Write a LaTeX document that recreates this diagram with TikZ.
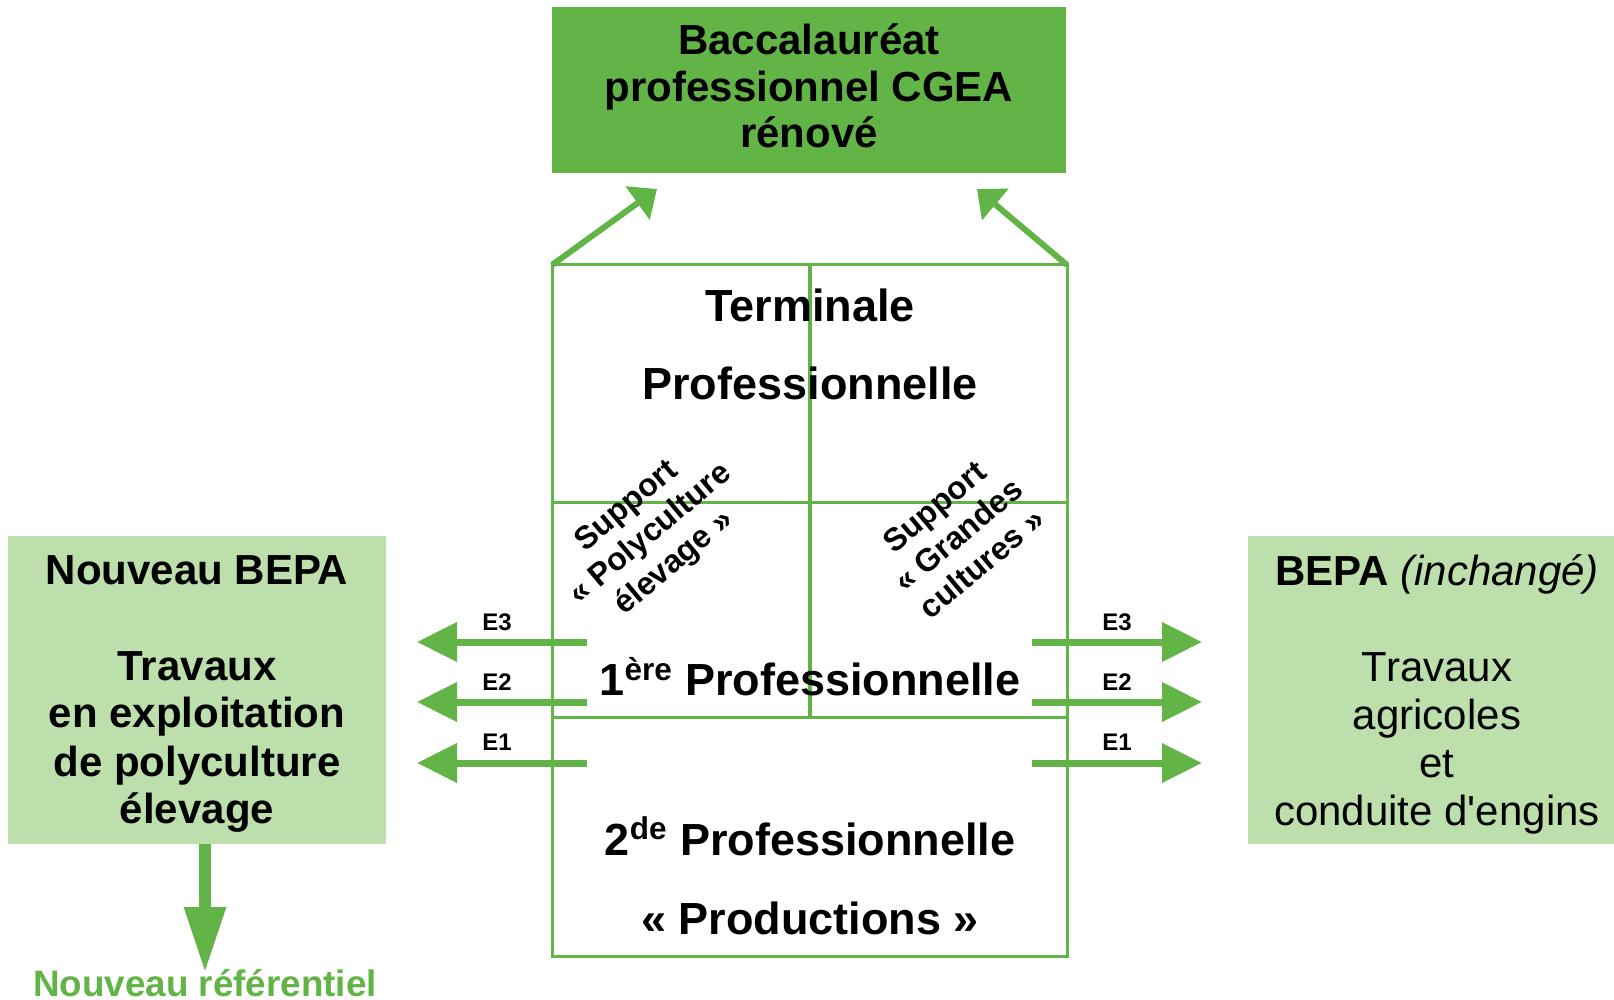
\documentclass[tikz,border=0pt]{standalone}
\usepackage{fontspec}
\setmainfont{Liberation Sans}
\newfontfamily\arialnl{Liberation Sans}
\usetikzlibrary{arrows.meta}
\definecolor{dgreen}{RGB}{99,180,70}
\definecolor{lgreen}{RGB}{188,223,172}
\begin{document}
\begin{tikzpicture}[x=0.5pt,y=-0.5pt,
  frameline/.style={draw=dgreen,line width=1.5pt},
  midline/.style={draw=dgreen,line width=2pt},
  bigtxt/.style={font=\bfseries\fontsize{22.5}{26}\selectfont,inner sep=0pt,anchor=base},
  boxtxt/.style={font=\fontsize{21}{24}\selectfont,align=center,inner sep=0pt},
  sidebox/.style={fill=lgreen,minimum width=189pt,minimum height=154pt,inner sep=0pt},
  rottxt/.style={font=\bfseries\fontsize{16}{18.5}\selectfont,align=center,inner sep=0pt,rotate=40},
  elabel/.style={font=\bfseries\fontsize{12}{14}\selectfont,inner sep=0pt},
  harrow/.style={draw=dgreen,line width=3.5pt,-{Triangle[length=20pt,width=19pt]}},
  uparrow/.style={draw=dgreen,line width=3pt,-{Triangle[length=12pt,width=20pt]}},
  downarrow/.style={draw=dgreen,line width=6pt,-{Triangle[length=33pt,width=19.5pt]}}
]
\useasboundingbox[fill=white] (0,0) rectangle (1614,1000);

% top box
\node[fill=dgreen,minimum width=257pt,minimum height=83pt,inner sep=0pt] (bac) at (809,90) {};
\node[boxtxt,font=\bfseries\fontsize{21}{23.3}\selectfont] (bactxt) at (809,86)
  {Baccalauréat\\professionnel CGEA\\rénové};

% central frame
\coordinate (ftl) at (552,265);
\coordinate (ftr) at (1067,265);
\coordinate (fbr) at (1067,956);
\coordinate (fml) at (552,503);
\coordinate (fmr) at (1067,503);
\coordinate (fll) at (552,717);
\coordinate (flr) at (1067,717);
\coordinate (fct) at (810,265);
\coordinate (fcb) at (810,717);
\draw[frameline] (ftl) rectangle (fbr);
\draw[frameline] (fml) -- (fmr);
\draw[frameline] (fll) -- (flr);
\draw[midline] (fct) -- (fcb);

% up arrows
\coordinate (ua1) at (657,189);
\coordinate (ua2) at (977,189);
\draw[uparrow] (ftl) -- (ua1);
\draw[uparrow] (ftr) -- (ua2);

% frame texts
\node[bigtxt] (term) at (810,322) {Terminale};
\node[bigtxt] (termb) at (810,400) {Professionnelle};
\node[bigtxt] (prem) at (810,696) {1\textsuperscript{ère} Professionnelle};
\node[bigtxt] (sec) at (810,855) {2\textsuperscript{de} Professionnelle};
\node[bigtxt] (prod) at (810,934) {« Productions »};

\node[rottxt] (supa) at (651,535) {Support\\« Polyculture\\élevage »};
\node[rottxt] (supb) at (958,535) {Support\\« Grandes\\cultures »};

% side boxes
\node[sidebox] (nbepa) at (197,690) {};
\node[boxtxt,font=\bfseries\fontsize{21}{24}\selectfont] (nbepatxt) at (197,694)
  {Nouveau BEPA\\[24pt]Travaux\\en exploitation\\de polyculture\\élevage};
\node[sidebox] (bepa) at (1437,690) {};
\node[boxtxt] (bepatxt) at (1437,694)
  {\textbf{BEPA} \textit{(inchangé)}\\[24pt]Travaux\\agricoles\\et\\conduite d{\arialnl '}engins};

% left arrows
\coordinate (l3s) at (587,642); \coordinate (l3e) at (417,642);
\coordinate (l2s) at (587,702); \coordinate (l2e) at (417,702);
\coordinate (l1s) at (587,763); \coordinate (l1e) at (417,763);
\draw[harrow] (l3s) -- (l3e);
\draw[harrow] (l2s) -- (l2e);
\draw[harrow] (l1s) -- (l1e);
\node[elabel] (le3) at (497,622) {E3};
\node[elabel] (le2) at (497,682) {E2};
\node[elabel] (le1) at (497,742) {E1};

% right arrows
\coordinate (r3s) at (1032,642); \coordinate (r3e) at (1202,642);
\coordinate (r2s) at (1032,702); \coordinate (r2e) at (1202,702);
\coordinate (r1s) at (1032,763); \coordinate (r1e) at (1202,763);
\draw[harrow] (r3s) -- (r3e);
\draw[harrow] (r2s) -- (r2e);
\draw[harrow] (r1s) -- (r1e);
\node[elabel] (re3) at (1117,622) {E3};
\node[elabel] (re2) at (1117,682) {E2};
\node[elabel] (re1) at (1117,742) {E1};

% down arrow
\node[font=\bfseries\fontsize{18.4}{20}\selectfont,text=dgreen,anchor=base,inner sep=0pt] (nref) at (205,996) {Nouveau référentiel};
\coordinate (dtip) at (205,973);
\draw[downarrow] (nbepa.south -| dtip) -- (dtip);
\end{tikzpicture}
\end{document}
